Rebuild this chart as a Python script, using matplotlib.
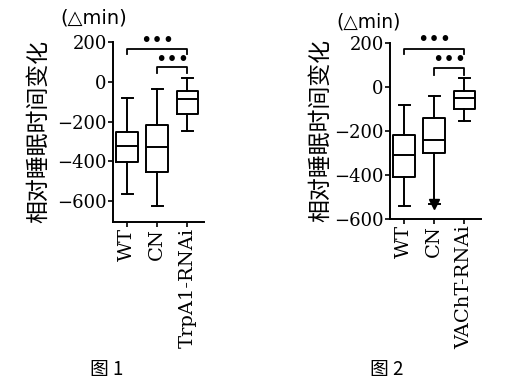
import matplotlib
matplotlib.use("Agg")
from matplotlib import pyplot as plt

plt.rcParams['font.family'] = ['DejaVu Serif', 'Noto Sans CJK SC', 'DejaVu Sans']
plt.rcParams['axes.linewidth'] = 1.4

# figure 1 data: (whisker low, q1, median, q3, whisker high)
groups1 = ["WT", "CN", "TrpA1-RNAi"]
wt1 = [-565, -405, -325, -255, -80]
cn1 = [-625, -455, -330, -215, -35]
trp1 = [-250, -160, -85, -45, 20]

# figure 2 data
groups2 = ["WT", "CN", "VAChT-RNAi"]
wt2 = [-541, -409, -309, -218, -82]
cn2 = [-532, -300, -241, -141, -41]
vacht2 = [-155, -100, -50, -18, 41]

yticks = [200, 0, -200, -400, -600]


def make_stats(rows, names):
    stats = []
    for r, n in zip(rows, names):
        stats.append({"whislo": r[0], "q1": r[1], "med": r[2], "q3": r[3],
                      "whishi": r[4], "label": n})
    return stats


def draw_panel(ax, rows, names, ylim, brackets, label_x, arrow_idx=None):
    lp = dict(color="black", linewidth=1.4)
    ax.bxp(make_stats(rows, names), positions=[1, 2, 3], widths=0.72,
           showfliers=False, boxprops=lp, whiskerprops=lp, capprops=lp,
           medianprops=lp)
    ax.set_xlim(0.53, 3.55)
    ax.set_ylim(*ylim)
    ax.set_yticks(yticks)
    ax.set_yticklabels(["200", "0", "\u2212200", "\u2212400", "\u2212600"],
                       fontsize=13)
    ax.set_xticklabels(names, rotation=90, fontsize=14)
    ax.spines["top"].set_visible(False)
    ax.spines["right"].set_visible(False)
    ax.tick_params(length=3.5, width=1.2, pad=1)
    ax.set_ylabel("相对睡眠时间变化", fontsize=16.5, family=['Noto Sans CJK SC'])
    ax.yaxis.set_label_coords(label_x, 0.5)
    if arrow_idx is not None:
        ax.plot(arrow_idx + 1, rows[arrow_idx][0], marker="v", color="black",
                markersize=7, clip_on=False)
    for (a, b, y, h, sy) in brackets:
        ax.plot([a, a, b, b], [y - h, y, y, y - h], color="black",
                linewidth=1.3, clip_on=False)
        ax.text((a + b) / 2, sy, "•••", ha="center", va="center",
                fontsize=14, family=['DejaVu Sans'], clip_on=False)


fig = plt.figure(figsize=(5.08, 3.87), dpi=100)
ax1 = fig.add_axes([0.2224, 0.4264, 0.1792, 0.4651])
ax2 = fig.add_axes([0.7677, 0.4341, 0.1792, 0.4548])

draw_panel(ax1, [wt1, cn1, trp1], groups1, (-705, 200),
           [(1, 3, 165, 25, 210), (2, 3, 75, 30, 110)], -0.69)
draw_panel(ax2, [wt2, cn2, vacht2], groups2, (-600, 200),
           [(1, 3, 173, 25, 215), (2, 3, 86, 30, 124)], -0.635, arrow_idx=1)

fig.text(0.118, 0.953, "(△min)", fontsize=14, family=['DejaVu Sans'],
         va="center")
fig.text(0.663, 0.943, "(△min)", fontsize=13.5, family=['DejaVu Sans'],
         va="center")
fig.text(0.21, 0.044, "图 1", fontsize=13.5, ha="center", va="center",
         family=['Noto Sans CJK SC'])
fig.text(0.762, 0.044, "图 2", fontsize=13.5, ha="center", va="center",
         family=['Noto Sans CJK SC'])

fig.savefig("out.png", dpi=100)
